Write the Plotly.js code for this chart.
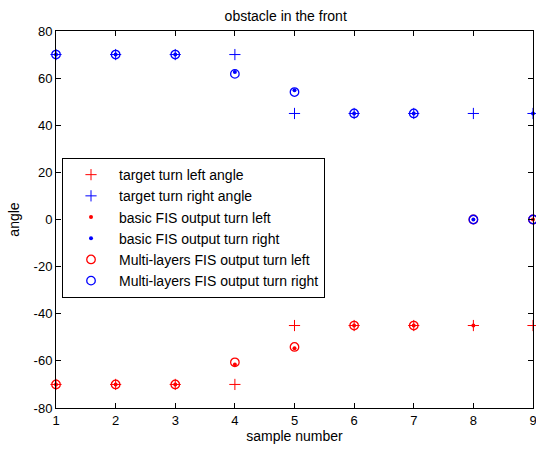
<!DOCTYPE html>
<html>
<head>
<meta charset="utf-8">
<script src="https://cdn.plot.ly/plotly-3.0.1.min.js"></script>
<style>html,body{margin:0;padding:0;background:#fff;}#chart{width:536px;height:451px;}</style>
</head>
<body>
<div id="chart"></div>
<script>
const samples = [1, 2, 3, 4, 5, 6, 7, 8, 9];
const targetLeft = [-70, -70, -70, -70, -45, -45, -45, -45, -45];
const targetRight = [70, 70, 70, 70, 45, 45, 45, 45, 45];
const basicLeft = [-70, -70, -70, -61.5, -54.6, -45, -45, -45, 0];
const basicRight = [70, 70, 70, 62.6, 54.9, 45, 45, 0, 45];
const multiLeft = [-70, -70, -70, -60.6, -54.1, -45, -45, 0, 0];
const multiRight = [70, 70, 70, 61.8, 54.1, 45, 45, 0, 0];
const seriesNames = [
  'target turn left angle',
  'target turn right angle',
  'basic FIS output turn left',
  'basic FIS output turn right',
  'Multi-layers FIS output turn left',
  'Multi-layers FIS output turn right'
];
const xTicks = [1, 2, 3, 4, 5, 6, 7, 8, 9];
const yTicks = [-80, -60, -40, -20, 0, 20, 40, 60, 80];
const yTickText = ['-80', '-60', '-40', '-20', '0', '20', '40', '60', '80'];

const RED = '#ff0000', BLUE = '#0000ff';
function tr(y, name, color, kind) {
  let marker;
  if (kind === 'plus') marker = {symbol: 'cross-thin-open', size: 8, color: color, line: {color: color, width: 1}};
  else if (kind === 'dot') marker = {symbol: 'circle', size: 4, color: color, line: {width: 0}};
  else marker = {symbol: 'circle-open', size: 8.5, color: color, line: {color: color, width: 1.3}};
  return {x: samples, y: y, name: name, type: 'scatter', mode: 'markers', marker: marker, cliponaxis: false};
}
const data = [
  tr(targetLeft, seriesNames[0], RED, 'plus'),
  tr(targetRight, seriesNames[1], BLUE, 'plus'),
  tr(basicLeft, seriesNames[2], RED, 'dot'),
  tr(basicRight, seriesNames[3], BLUE, 'dot'),
  tr(multiLeft, seriesNames[4], RED, 'circle'),
  tr(multiRight, seriesNames[5], BLUE, 'circle')
];
const FS = 14;
const axisCommon = {
  showline: true, mirror: 'ticks', linecolor: '#000', linewidth: 1,
  ticks: 'inside', ticklen: 5, tickcolor: '#000', tickwidth: 1,
  showgrid: false, zeroline: false, tickfont: {size: 13, color: '#000'},
  ticklabeloverflow: 'allow'
};
const layout = {
  width: 536, height: 451,
  margin: {l: 56, r: 3, t: 31, b: 43},
  paper_bgcolor: '#fff', plot_bgcolor: '#fff',
  font: {family: 'Arial, "Liberation Sans", sans-serif', size: FS, color: '#000'},
  title: {text: 'obstacle in the front', font: {size: FS, color: '#000'}, x: 0.533, xanchor: 'center', y: 0.965, yanchor: 'middle'},
  xaxis: Object.assign({}, axisCommon, {range: [1, 9], tickvals: xTicks, title: {text: 'sample number', font: {size: FS}, standoff: 4}}),
  yaxis: Object.assign({}, axisCommon, {range: [-80, 80], tickvals: yTicks, ticktext: yTickText, title: {text: 'angle', font: {size: FS}, standoff: 10}}),
  showlegend: true,
  legend: {
    x: 0.0126, y: 0.663, xanchor: 'left', yanchor: 'top',
    bgcolor: '#fff', bordercolor: '#000', borderwidth: 1,
    font: {size: 14, color: '#000'}, itemwidth: 46, tracegroupgap: 0
  }
};
Plotly.newPlot('chart', data, layout, {displayModeBar: false, staticPlot: true});
</script>
</body>
</html>
